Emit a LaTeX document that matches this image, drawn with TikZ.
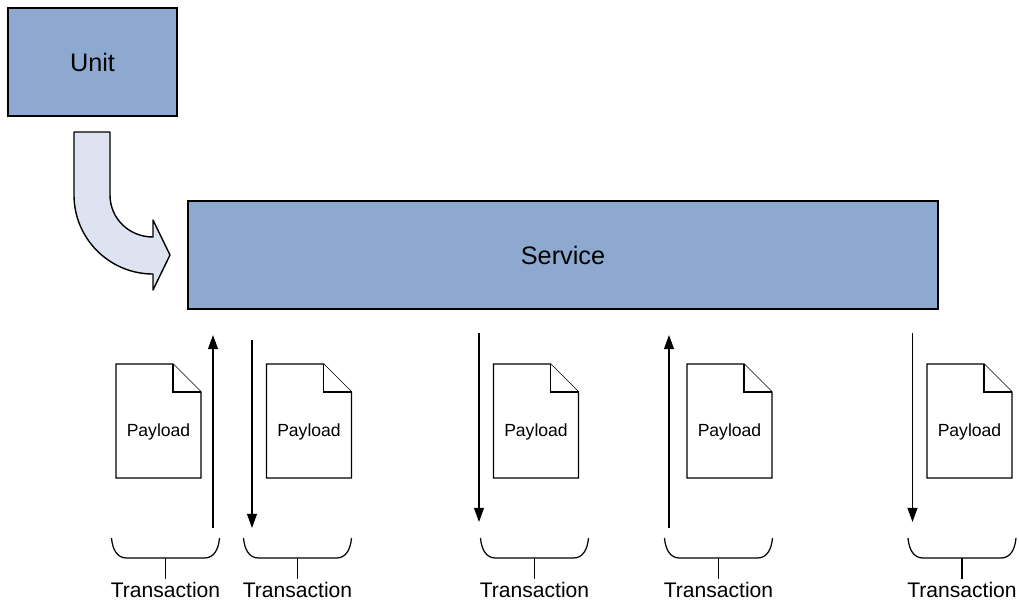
\documentclass[tikz,border=0pt]{standalone}
\usepackage{fontspec}
\setmainfont{Liberation Sans}
\usetikzlibrary{arrows.meta}
\definecolor{boxblue}{RGB}{142,169,207}
\definecolor{arrowfill}{RGB}{221,227,240}

\tikzset{
  box/.style={draw=black,line width=0.8pt,fill=boxblue,font=\fontsize{14.4}{17}\selectfont,inner sep=0pt},
  paper/.style={draw=black,line width=0.7pt,fill=white},
  flow/.style={line width=0.8pt,-{Triangle[length=8pt,width=5.6pt]}},
  bracket/.style={line width=0.7pt},
}

\begin{document}
\begin{tikzpicture}[x=0.02cm,y=-0.02cm]
  \useasboundingbox (0,0) rectangle (1019,600);

  % the two boxes
  \node[box,minimum width=3.38cm,minimum height=2.16cm] (unit) at (92.5,62) {Unit};
  \node[box,minimum width=15cm,minimum height=2.16cm] (service) at (563,255) {Service};

  % bent block arrow from unit to service
  \draw[line width=0.8pt,fill=arrowfill,line join=round]
    (74,132) -- (74,195) .. controls (74,238.6) and (109.4,274) .. (153,274)
    -- (153,290) -- (170,255) -- (153,220) -- (153,237)
    .. controls (129.3,237) and (110,218.7) .. (110,195) -- (110,132) -- cycle;

  % payload documents
  \foreach \x/\n in {158.5/1,309/2,536/3,729.5/4,969.5/5} {
    \draw[paper] (\x-42.5,364) -- (\x+14.5,364) -- (\x+42.5,392)
      -- (\x+42.5,478) -- (\x-42.5,478) -- cycle;
    \draw[paper] (\x+14.5,364) -- (\x+14.5,392) -- (\x+42.5,392);
    \node[font=\fontsize{10}{12}\selectfont] (pl\n) at (\x,432) {Payload};
  }

  % requests and responses
  \coordinate (a1s) at (213,528);   \coordinate (a1e) at (213,335);
  \coordinate (a2s) at (252,340);   \coordinate (a2e) at (252,528);
  \coordinate (a3s) at (479,333);   \coordinate (a3e) at (479,522);
  \coordinate (a4s) at (669,528);   \coordinate (a4e) at (669,335);
  \coordinate (a5s) at (912.5,333); \coordinate (a5e) at (912.5,522);
  \foreach \i in {1,...,5}
    \draw[flow] (a\i s) -- (a\i e);

  % brackets with labels
  \foreach \x/\n in {165.5/1,297.5/2,534.5/3,718.5/4,962/5} {
    \draw[bracket] (\x-54,538) .. controls (\x-53,550) and (\x-48,558) .. (\x-39,558)
      -- (\x+39,558) .. controls (\x+48,558) and (\x+53,550) .. (\x+54,538);
    \node[font=\fontsize{12}{14}\selectfont,inner sep=1.5pt] (tr\n) at (\x,589.5) {Transaction};
    \draw[bracket] (\x,558) -- (tr\n.north);
  }
\end{tikzpicture}
\end{document}
